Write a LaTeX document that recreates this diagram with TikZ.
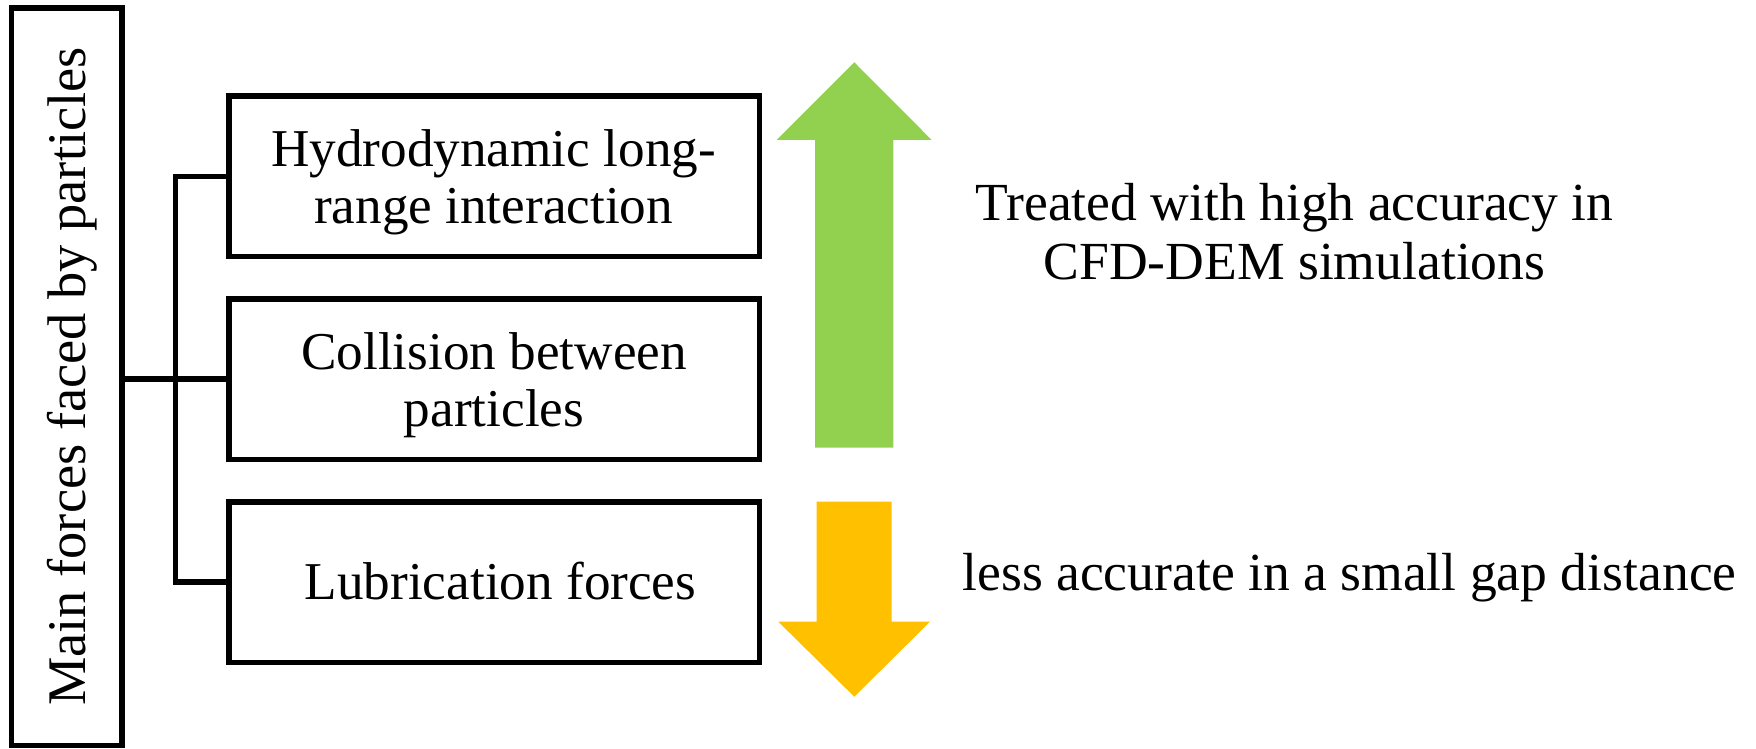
\documentclass[tikz,border=0pt]{standalone}
\usepackage{fontspec}
\setmainfont{Liberation Serif}
\definecolor{lgreen}{HTML}{92D050}
\definecolor{lorange}{HTML}{FFC000}
\begin{document}
\begin{tikzpicture}[x=0.5pt,y=-0.5pt,
  frame/.style={draw=black, line width=2.75pt, minimum width=265.35pt, minimum height=80.25pt, inner sep=0pt},
  boxtxt/.style={font=\fontsize{26.6pt}{28.35pt}\selectfont, align=center, inner sep=0pt, anchor=base},
  sidetxt/.style={font=\fontsize{26.8pt}{29.5pt}\selectfont, align=center, inner sep=0pt, anchor=base},
  conn/.style={draw=black, line width=2.75pt}]
\useasboundingbox (0,0) rectangle (1756,749);
% main box
\node[draw=black, line width=2.75pt, minimum width=55.25pt, minimum height=368.75pt, inner sep=0pt] (main) at (66.75,376.75) {};
\node[font=\fontsize{27.2pt}{30pt}\selectfont, rotate=90, anchor=base, inner sep=0pt] (maintxt) at (85,376.5) {Main forces faced by particles};
% boxes
\node[frame] (b1) at (494.35,176.25) {};
\node[frame] (b2) at (494.35,379.2) {};
\node[frame] (b3) at (494.35,582) {};
\node[boxtxt] (t1) at (493.6,223) {Hydrodynamic long-\\range interaction};
\node[boxtxt] (t2) at (494,426) {Collision between\\particles};
\node[boxtxt] (t3) at (500.5,599.5) {Lubrication forces};
% connectors
\coordinate (j) at (175.5,379.2);
\draw[conn] (main.east |- b2.west) -- (b2.west);
\draw[conn] (b1.west) -- (b1.west -| j) -- (b3.west -| j) -- (b3.west);
% arrows
\fill[lgreen] (815,447.7) -- (815,140) -- (776.7,140) -- (854.3,62.3) -- (931.7,140) -- (893.3,140) -- (893.3,447.7) -- cycle;
\fill[lorange] (816.7,501.7) -- (891.7,501.7) -- (891.7,621.7) -- (930,621.7) -- (854.3,696.7) -- (778.3,621.7) -- (816.7,621.7) -- cycle;
% side texts
\node[sidetxt] (s1) at (1294.5,279) {Treated with high accuracy in\\CFD-DEM simulations};
\node[sidetxt] (s2) at (1349.5,590) {less accurate in a small gap distance};
\end{tikzpicture}
\end{document}
